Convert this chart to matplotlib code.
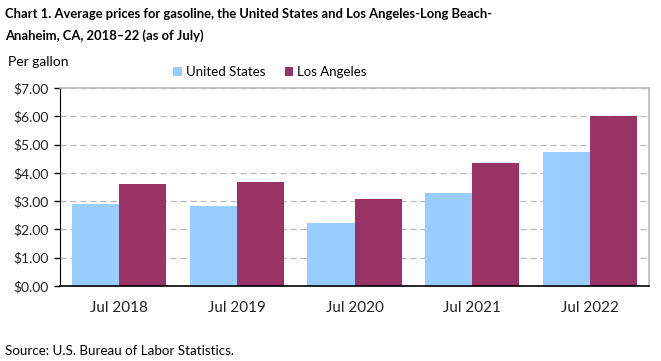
import numpy as np
import matplotlib
matplotlib.use("Agg")
import matplotlib.pyplot as plt
from matplotlib.ticker import FuncFormatter

# values (dollars per gallon, July of each year)
years = ["Jul 2018", "Jul 2019", "Jul 2020", "Jul 2021", "Jul 2022"]
us_price = [2.90, 2.83, 2.23, 3.29, 4.73]
la_price = [3.60, 3.68, 3.07, 4.35, 6.01]

US_COLOR = "#99ccff"
LA_COLOR = "#993366"

plt.rcParams["font.family"] = ["Lato", "DejaVu Sans"]

fig = plt.figure(figsize=(6.61, 3.61), dpi=100)
ax = fig.add_axes([60 / 661, 1 - 286 / 361, 589 / 661, 198 / 361])

x = np.arange(len(years))
w = 0.4
ax.bar(x - w / 2, us_price, w, color=US_COLOR, label="United States", zorder=2)
ax.bar(x + w / 2, la_price, w, color=LA_COLOR, label="Los Angeles", zorder=2)

ax.set_xlim(-0.5, len(years) - 0.5)
ax.set_ylim(0, 7)
ax.set_yticks(np.arange(0, 8, 1))
ax.yaxis.set_major_formatter(FuncFormatter(lambda v, p: "${:.2f}".format(v)))
ax.set_xticks(x)
ax.set_xticklabels(years)
ax.tick_params(axis="x", length=0, pad=11, labelsize=11, labelcolor="#222222")
ax.tick_params(axis="y", length=4, width=1, labelsize=10, labelcolor="#222222",
               pad=4)

ax.grid(axis="y", color="#bbbbbb", linestyle=(0, (5, 3)), linewidth=0.9, zorder=0)
ax.set_axisbelow(True)

ax.spines["left"].set_color("black")
ax.spines["bottom"].set_color("black")
ax.spines["bottom"].set_linewidth(1.2)
ax.spines["top"].set_color("#bbbbbb")
ax.spines["right"].set_color("#bbbbbb")
ax.spines["top"].set_linewidth(1.2)
ax.spines["right"].set_linewidth(1.2)

fig.text(5 / 661, 1 - 14 / 361,
         "Chart 1. Average prices for gasoline, the United States and Los Angeles-Long Beach-",
         fontsize=9.4, fontweight="bold", va="center", ha="left")
fig.text(5 / 661, 1 - 36 / 361, "Anaheim, CA, 2018\u201322 (as of July)",
         fontsize=9.4, fontweight="bold", va="center", ha="left")
fig.text(8 / 661, 1 - 62 / 361, "Per gallon", fontsize=10, va="center", ha="left")
fig.text(5 / 661, 1 - 351 / 361, "Source: U.S. Bureau of Labor Statistics.",
         fontsize=9.6, va="center", ha="left")

fig.legend(loc="center", bbox_to_anchor=(270 / 661, 1 - 72 / 361), ncol=2,
           frameon=False, fontsize=9.5, handlelength=0.65, handleheight=0.65,
           handletextpad=0.3, columnspacing=1.5)

fig.savefig("out.png", dpi=100)
